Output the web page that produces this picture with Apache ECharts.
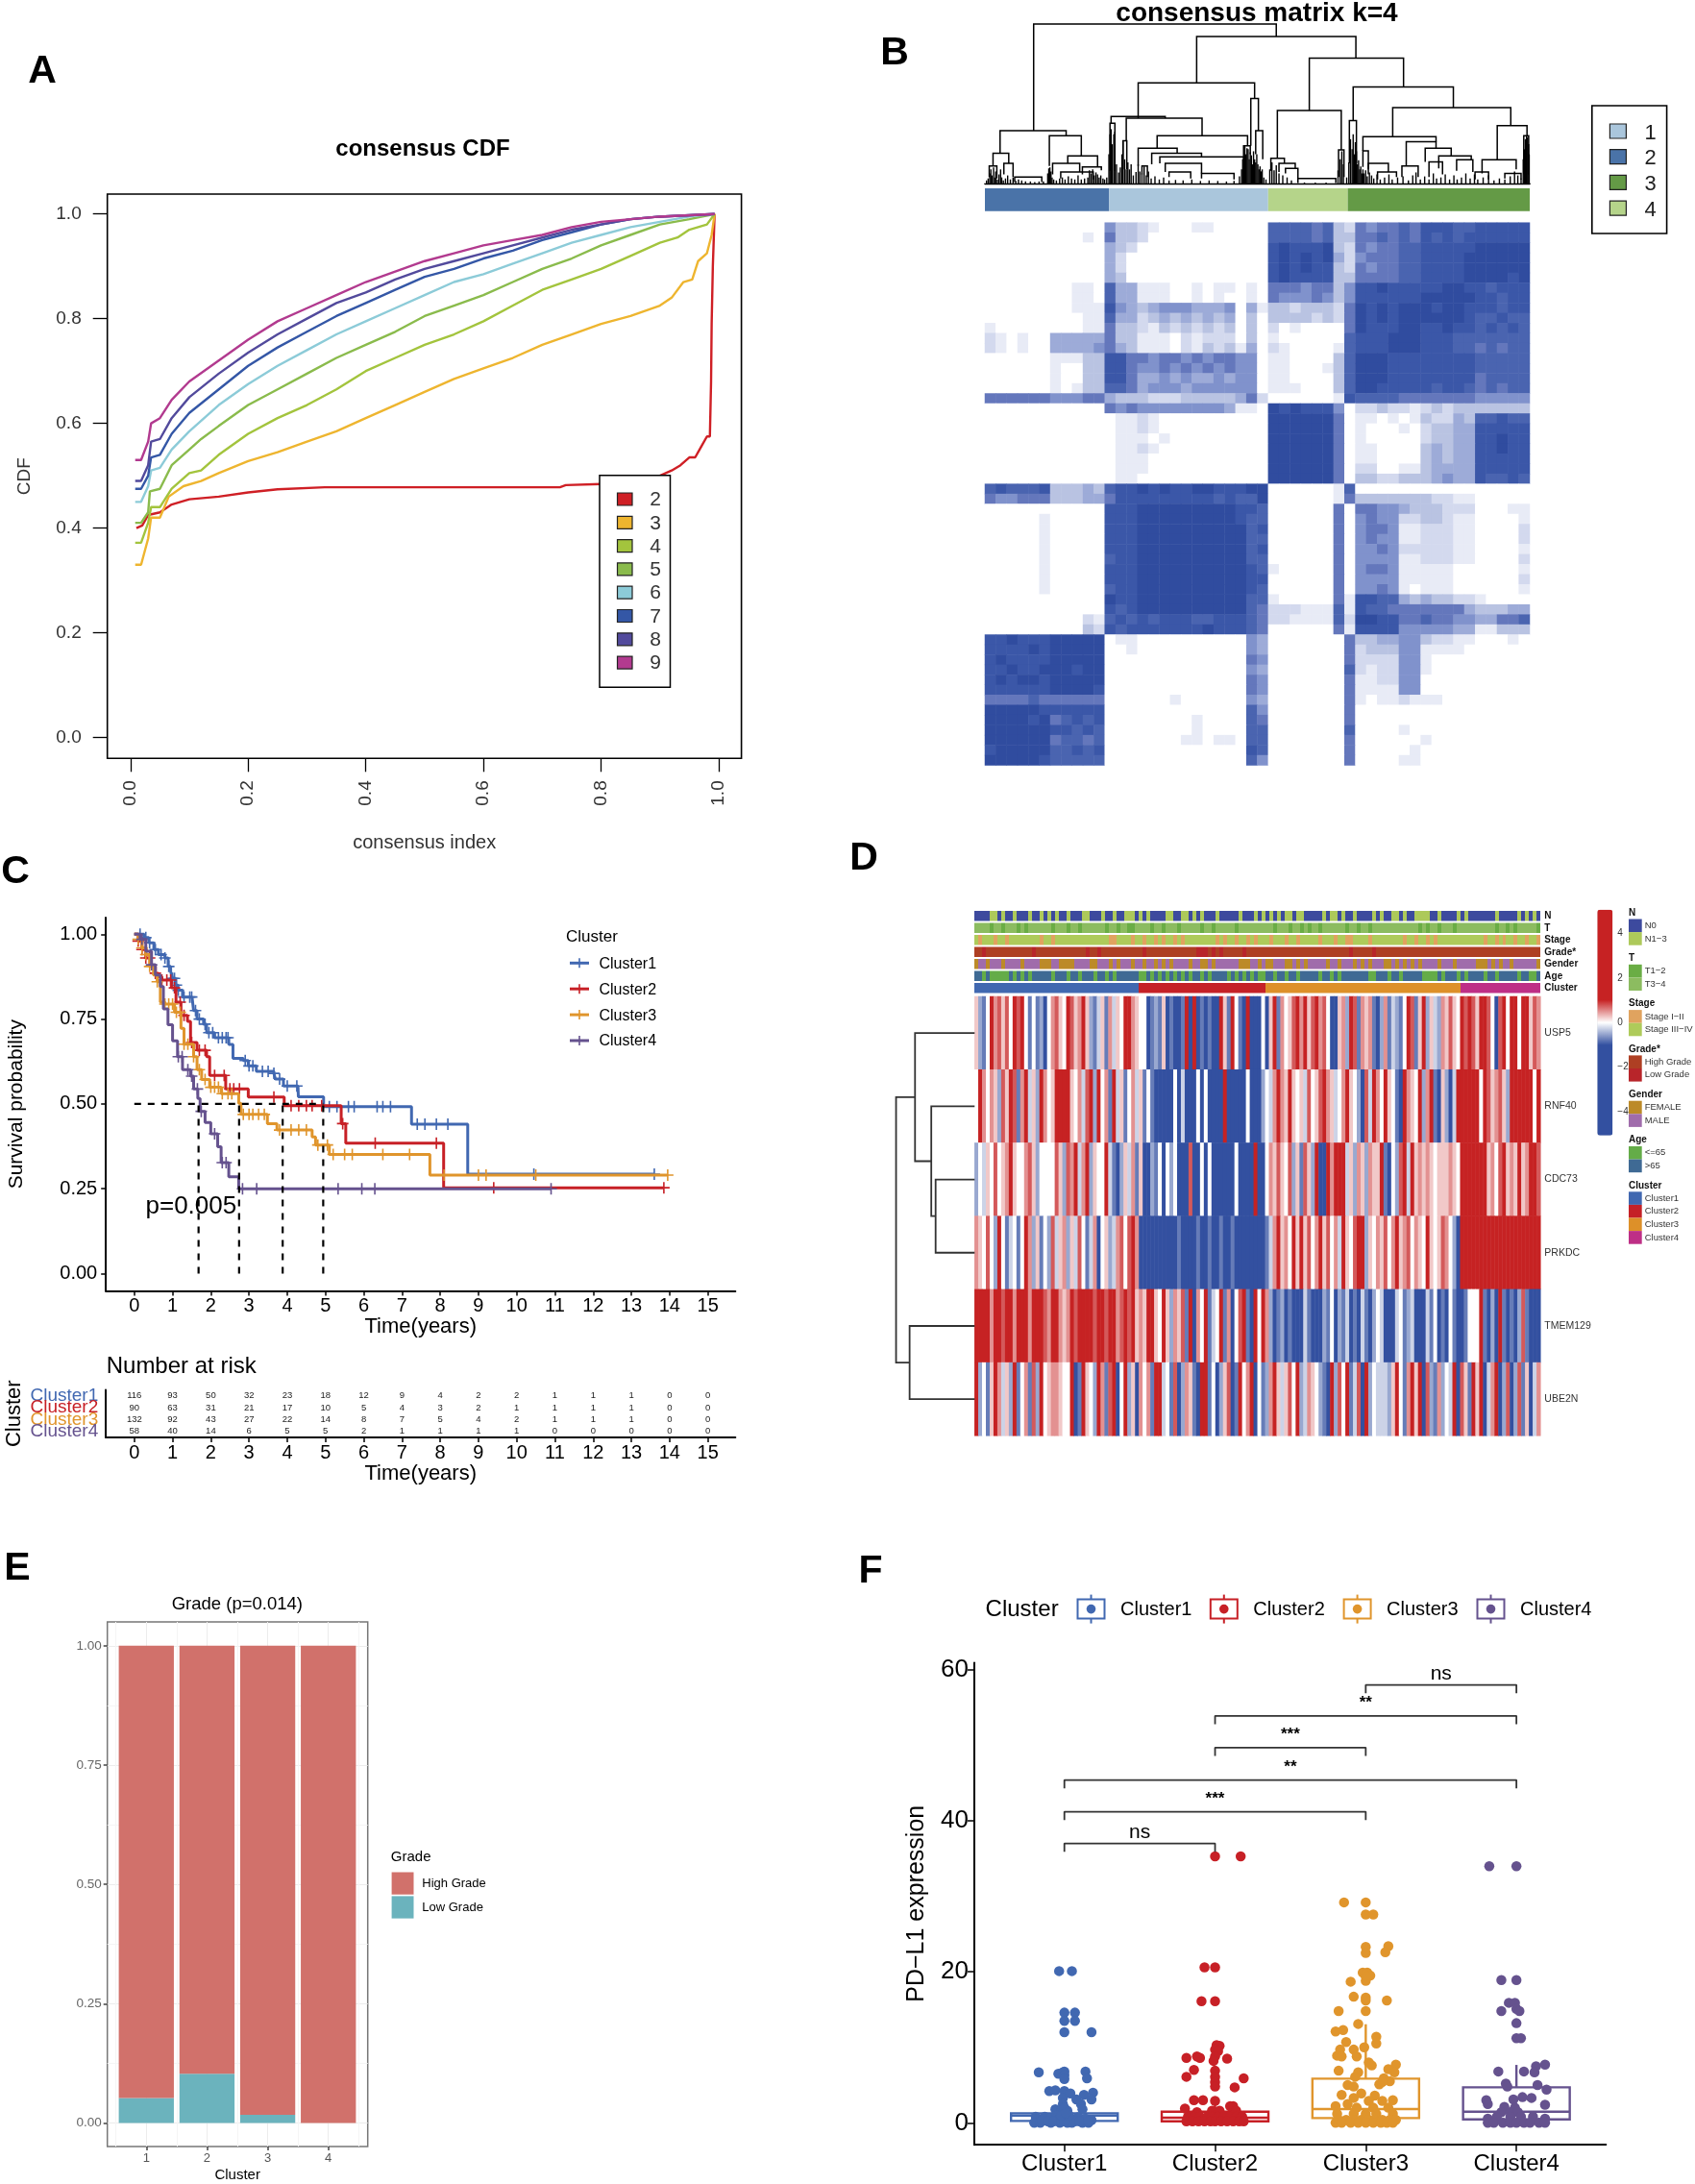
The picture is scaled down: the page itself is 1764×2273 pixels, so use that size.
<!DOCTYPE html>
<html>
<head>
<meta charset="utf-8">
<title>Consensus clusters</title>
<script src="https://cdn.jsdelivr.net/npm/echarts@6/dist/echarts.min.js"></script>
<style>
  html, body { margin: 0; padding: 0; background: #fff; }
  #chart { width: 1764px; height: 2273px; }
</style>
</head>
<body>
<div id="chart"></div>
<script>
// ====== panel A: consensus CDF ======
const cdfNames = ['2', '3', '4', '5', '6', '7', '8', '9'];
const cdfColors = ['#cf1f25', '#eeb52f', '#a3c43d', '#8abb4c', '#8ccbd8', '#3457a6', '#524a9c', '#b23a8f'];
const cdf2 = [[.01,.40],[.02,.405],[.03,.425],[.05,.43],[.07,.445],[.1,.455],[.15,.46],[.2,.468],[.25,.474],[.33,.478],[.73,.478],[.74,.482],[.8,.484],[.88,.495],[.9,.5],[.92,.51],[.935,.52],[.95,.535],[.96,.535],[.97,.555],[.98,.575],[.985,.575],[.987,.68],[.988,.79],[.99,.9],[.993,1]];
const cdf3 = [[.008,.33],[.018,.33],[.03,.38],[.035,.42],[.05,.42],[.065,.46],[.09,.48],[.12,.49],[.15,.505],[.2,.528],[.25,.545],[.3,.565],[.35,.585],[.4,.61],[.45,.635],[.5,.66],[.55,.685],[.6,.705],[.65,.725],[.7,.75],[.75,.77],[.8,.79],[.85,.805],[.9,.825],[.92,.84],[.94,.87],[.955,.875],[.965,.91],[.98,.925],[.988,.96],[.993,1]];
const cdf4 = [[.008,.372],[.018,.372],[.03,.41],[.035,.44],[.05,.44],[.07,.475],[.1,.505],[.12,.51],[.15,.54],[.2,.58],[.25,.61],[.3,.635],[.35,.665],[.4,.70],[.45,.725],[.5,.75],[.55,.77],[.6,.795],[.65,.825],[.7,.855],[.75,.875],[.8,.895],[.85,.92],[.9,.945],[.93,.955],[.95,.97],[.98,.98],[.993,1]];
const cdf5 = [[.008,.41],[.018,.41],[.03,.43],[.033,.47],[.05,.475],[.07,.52],[.1,.55],[.12,.57],[.15,.595],[.2,.635],[.25,.665],[.3,.695],[.35,.725],[.4,.75],[.45,.775],[.5,.805],[.55,.825],[.6,.845],[.65,.87],[.7,.895],[.75,.915],[.8,.94],[.85,.96],[.9,.98],[.95,.99],[.993,1]];
const cdf6 = [[.008,.45],[.018,.45],[.03,.48],[.035,.51],[.05,.515],[.07,.55],[.1,.585],[.15,.635],[.2,.675],[.25,.71],[.3,.74],[.35,.77],[.4,.795],[.45,.82],[.5,.845],[.55,.87],[.6,.885],[.65,.905],[.7,.925],[.75,.945],[.8,.96],[.85,.975],[.9,.985],[.95,.995],[.993,1]];
const cdf7 = [[.008,.475],[.018,.475],[.03,.50],[.035,.535],[.05,.54],[.07,.58],[.1,.62],[.15,.665],[.2,.71],[.25,.745],[.3,.775],[.35,.805],[.4,.83],[.45,.855],[.5,.88],[.55,.895],[.6,.915],[.65,.93],[.7,.95],[.75,.965],[.8,.98],[.85,.99],[.9,.995],[.993,1]];
const cdf8 = [[.008,.49],[.018,.49],[.03,.52],[.035,.565],[.05,.57],[.07,.61],[.1,.65],[.15,.695],[.2,.735],[.25,.77],[.3,.80],[.35,.83],[.4,.85],[.45,.875],[.5,.895],[.55,.91],[.6,.925],[.65,.94],[.7,.955],[.75,.97],[.8,.98],[.85,.99],[.9,.995],[.993,1]];
const cdf9 = [[.008,.53],[.018,.53],[.03,.565],[.035,.6],[.05,.61],[.07,.645],[.1,.68],[.15,.72],[.2,.76],[.25,.795],[.3,.82],[.35,.845],[.4,.87],[.45,.89],[.5,.91],[.55,.925],[.6,.94],[.65,.95],[.7,.96],[.75,.975],[.8,.985],[.85,.99],[.9,.995],[.993,1]];
const cdfCurves = [cdf2, cdf3, cdf4, cdf5, cdf6, cdf7, cdf8, cdf9];

// ====== panel B: consensus matrix, levels 0-9, read as 50 x 54 blocks ======
const matrixRows = [
 '000000 00000 53 32 100011000 00 777767 3 2 6566 76 888 77 88888',
 '000000 00010 63 32 000000000 00 777767 3 3 6676 76 878 78 88888',
 '000000 00000 43 20 000000000 00 898889 3 2 6566 77 888 88 99999',
 '000000 00000 42 00 000000000 00 898989 4 2 5666 77 888 89 99999',
 '000000 00000 42 00 000000000 00 898988 3 2 6566 77 888 89 99999',
 '000000 00000 43 00 000000000 00 898888 3 3 6666 77 888 89 99989',
 '000000 00110 74 41 110010110 10 666566 3 5 8898 88 889 98 87888',
 '000000 00110 74 41 110010100 10 655565 3 5 8888 88 999 99 88788',
 '000000 00111 85 43 455544450 41 332333 2 6 9898 99 989 98 88788',
 '000000 00011 74 42 343434340 30 333323 2 6 9898 99 999 98 77877',
 '100000 00011 63 32 132323230 30 201000 0 6 9888 99 889 88 78787',
 '210100 44444 63 31 110212220 30 100000 0 7 8889 99 888 77 77777',
 '210100 44445 64 31 110213231 40 210000 1 7 8889 99 888 77 67677',
 '000000 11133 88 66 566565665 50 110000 3 7 9998 88 888 88 77777',
 '000000 10033 88 65 565656565 50 110001 3 7 9998 88 888 88 77777',
 '000000 10033 88 64 454544545 50 110000 3 7 9998 88 888 88 67777',
 '000000 10133 77 64 555455555 50 111000 3 7 9988 88 878 87 67677',
 '666666 55566 43 33 222333334 62 000000 1 8 7777 66 666 66 55555',
 '000000 00000 65 65 555555541 10 989888 5 0 2232 21 232 33 33333',
 '000000 00000 01 12 100000000 00 999999 6 0 1101 01 322 43 77877',
 '000000 00000 01 12 100000000 00 999999 6 0 1000 10 233 44 88888',
 '000000 00000 01 11 010000000 00 999999 6 0 1000 00 233 44 88988',
 '000000 00000 01 12 100000000 00 999999 6 0 1100 00 343 44 88988',
 '000000 00000 01 11 000000000 00 999999 6 0 1100 00 343 44 88888',
 '000000 00000 01 11 000000000 00 999999 6 0 2200 11 344 44 88888',
 '000000 00000 01 10 000000000 00 999999 6 0 3322 33 345 44 87787',
 '787778 33343 78 89 898899888 99 000000 1 7 0000 00 000 00 00000',
 '655666 33344 68 88 888888787 79 000000 1 6 3333 33 322 11 00000',
 '000000 00000 88 89 999999998 87 000000 6 0 6655 43 332 22 00011',
 '000001 00000 88 89 999999998 77 000000 6 0 5655 22 332 11 00001',
 '000001 00000 88 89 999999999 78 000000 6 0 5665 11 222 11 00002',
 '000001 00000 88 89 999999999 77 000000 6 0 5655 11 222 11 00002',
 '000001 00000 88 89 999999999 78 000000 6 0 5565 22 222 11 00001',
 '000001 00000 78 89 999999999 77 000000 6 0 5555 11 222 11 00002',
 '000001 00000 88 89 999999999 87 100000 6 0 5665 11 111 00 00001',
 '000001 00000 88 89 999999999 88 000000 6 0 5555 11 111 00 00002',
 '000001 00000 78 89 999999999 87 000000 6 0 5565 10 111 00 00001',
 '000000 00000 98 89 999999999 77 100000 6 1 8877 43 433 22 10000',
 '000000 00000 87 89 999999999 76 222111 7 1 8776 66 666 64 33344',
 '000000 00021 78 78 788877888 76 221111 7 2 9988 66 766 55 44667',
 '000000 00032 87 88 888889888 76 000000 6 1 8888 55 555 44 11333',
 '889888 99999 01 10 000000000 54 000000 0 6 3344 55 322 11 00010',
 '888898 99999 00 10 000000000 54 000000 0 6 2333 55 111 10 00000',
 '898888 99999 00 00 000000000 65 000000 0 6 2222 55 100 00 00000',
 '889889 99899 00 00 000000000 54 000000 0 7 2122 55 100 00 00000',
 '898998 99999 00 00 000000000 65 000000 0 6 1122 55 000 00 00000',
 '888888 99998 00 00 000000000 65 000000 0 6 1111 55 000 00 00000',
 '666676 66666 00 00 001000000 54 000000 0 6 1011 21 110 00 00000',
 '999998 88888 00 00 000000000 75 000000 0 6 0000 00 000 00 00000',
 '999989 67878 00 00 000010000 76 000000 0 6 0000 00 000 00 00000',
 '999999 88787 00 00 000010000 77 000000 0 7 0000 10 000 00 00000',
 '999999 67767 00 00 000110110 77 000000 0 6 0000 00 100 00 00000',
 '899999 77878 00 00 000000000 87 000000 0 6 0000 01 000 00 00000',
 '999998 77777 00 00 000000000 75 000000 0 6 0000 11 000 00 00000'
];
const matrixBarNames = ['2', '1', '4', '3'];
const matrixBarWidths = [229, 294, 147, 336];
const matrixBarColors = ['#4a73a8', '#aac6dc', '#b5d48a', '#649a46'];
const matrixLegendNames = ['1', '2', '3', '4'];
const matrixLegendColors = ['#aac6dc', '#4a73a8', '#649a46', '#b5d48a'];
// [left, right, top, left bottom, right bottom]
const dendroMerges = [
 [90,538,319,107,294],[28,150,107,62,97],[15,44,62,37,42],[8,22,37,15,12],[35,52,42,20,15],[119,178,97,37,57],
 [153,208,57,42,35],[125,175,42,20,25],[180,215,35,20,28],[140,200,25,12,10],[55,105,15,5,5],[391,685,294,202,251],
 [283,498,202,132,171],[491,505,171,77,107],[500,513,107,60,50],[233,333,135,122,132],[231,240,122,27,27],[261,401,132,87,97],
 [318,485,97,72,77],[283,355,72,37,62],[308,400,62,40,55],[323,478,55,42,35],[290,300,37,20,15],[333,400,42,25,22],
 [340,380,25,15,12],[400,460,22,12,10],[255,262,87,30,30],[478,490,77,40,60],[599,773,251,147,194],[540,658,147,52,69],
 [653,663,69,15,15],[528,553,52,27,42],[543,573,42,25,32],[578,648,12,3,3],[555,578,32,22,12],[680,865,194,127,153],
 [673,686,127,42,42],[753,971,153,95,117],[946,1001,117,49,97],[995,1004,97,20,20],[918,981,49,22,30],[698,833,95,67,85],
 [778,833,85,37,72],[813,861,72,45,57],[838,898,57,32,49],[871,901,49,27,25],[698,708,67,35,30],[708,745,42,20,25],
 [725,760,25,10,15],[770,800,37,15,15],[820,845,45,15,20],[905,930,25,10,10],[960,990,22,12,10],[0,1006,1,0,0]
];
// [x, height] of the dense low branches
const dendroComb = [
 [3,8],[6,12],[9,22],[11,30],[13,18],[16,34],[18,14],[20,26],[23,10],[26,20],[29,30],[31,14],[34,8],[38,12],[42,18],[47,10],[52,14],
 [57,7],[62,10],[68,8],[75,6],[84,6],[92,5],[100,6],[108,6],[116,22],[118,32],[120,34],[122,26],[124,14],[127,10],[132,8],[138,12],
 [143,14],[148,10],[154,16],[160,12],[166,10],[172,18],[178,10],[184,12],[190,14],[193,28],[196,22],[199,30],[202,18],[205,24],[208,20],
 [211,14],[214,18],[218,12],[221,10],[225,14],[229,60],[231,100],[233,110],[235,80],[238,100],[240,105],[243,40],[247,24],[250,34],
 [253,60],[255,85],[258,50],[261,30],[264,44],[267,30],[270,40],[274,18],[279,25],[283,40],[286,26],[290,22],[294,36],[298,18],[302,26],
 [307,12],[314,16],[322,10],[330,14],[340,8],[352,9],[366,8],[382,10],[398,7],[414,8],[430,7],[446,6],[460,7],[470,16],
 [474,30],[476,50],[478,78],[480,76],[482,60],[484,72],[486,70],[488,50],[490,64],[492,58],[494,40],[496,66],[498,50],[500,44],[502,60],
 [504,40],[506,30],[508,36],[510,26],[512,30],[515,14],[519,10],[526,30],[530,44],[534,28],[538,38],[543,22],[550,18],[558,14],[566,8],
 [590,4],[610,4],[630,4],[652,28],[656,50],[659,66],[662,40],[668,14],[672,44],[675,90],[678,70],[680,100],[682,60],[684,84],[686,66],
 [688,40],[690,48],[692,30],[694,36],[696,22],[698,30],[700,22],[703,28],[706,16],[710,24],[714,18],[718,12],[724,20],[730,10],[738,14],
 [746,20],[752,10],[762,14],[772,16],[782,8],[790,18],[796,24],[804,10],[812,16],[820,10],[828,22],[834,12],[842,14],[850,20],[858,10],
 [866,18],[872,10],[880,14],[888,22],[896,12],[904,20],[910,10],[920,14],[930,18],[940,8],[950,12],[960,10],[970,16],[978,26],[984,18],
 [990,12],[994,50],[996,70],[998,90],[1000,96],[1002,94],[1004,80],[1005,60]
];

// ====== panel C: Kaplan-Meier, [time, survival after the step] ======
const clusterNames = ['Cluster1', 'Cluster2', 'Cluster3', 'Cluster4'];
const clusterColors = ['#4168b1', '#c72026', '#e0952c', '#65528e'];
const kmCluster1 = [[0,1],[.25,.99],[.38,.975],[.51,.955],[.63,.94],[.8,.93],[.885,.905],[.95,.89],[1,.87],[1.08,.85],[1.14,.835],[1.26,.815],[1.51,.81],[1.55,.775],[1.64,.75],[1.81,.735],[1.89,.71],[2.1,.695],[2.47,.675],[2.58,.634],[2.85,.628],[2.98,.612],[3.19,.596],[3.65,.59],[3.69,.573],[3.9,.553],[4.28,.549],[4.29,.521],[4.95,.492],[7.25,.44],[8.72,.293],[13.6,.293]];
const kmCluster2 = [[0,1],[.1,.98],[.2,.955],[.3,.93],[.42,.905],[.55,.885],[.63,.875],[.72,.865],[.97,.842],[1.09,.80],[1.22,.761],[1.39,.743],[1.47,.681],[1.64,.658],[1.89,.639],[1.97,.584],[2.39,.544],[2.98,.52],[3.92,.495],[5.41,.442],[5.53,.384],[8.09,.253],[13.85,.253]];
const kmCluster3 = [[0,1],[.1,.985],[.2,.96],[.3,.94],[.4,.905],[.5,.88],[.6,.86],[.68,.80],[.8,.794],[1.05,.77],[1.22,.723],[1.3,.676],[1.55,.639],[1.64,.601],[1.76,.572],[1.97,.549],[2.27,.53],[2.73,.502],[2.79,.469],[3.48,.442],[3.73,.423],[4.65,.403],[4.74,.379],[5.1,.351],[7.73,.29],[13.95,.29]];
const kmCluster4 = [[0,1],[.15,.985],[.3,.95],[.45,.91],[.55,.88],[.68,.846],[.76,.78],[.88,.733],[1,.686],[1.13,.639],[1.26,.601],[1.47,.582],[1.55,.544],[1.66,.516],[1.72,.478],[1.85,.445],[2,.412],[2.18,.374],[2.27,.327],[2.47,.285],[2.73,.25],[10.9,.25]];
const kmCurves = [kmCluster1, kmCluster2, kmCluster3, kmCluster4];
const censorCluster1 = [.15,.3,.4,.55,.7,.8,.9,1,1.05,1.1,1.15,1.3,1.45,1.5,1.6,1.7,1.85,1.95,2.05,2.2,2.3,2.4,2.45,2.9,3,3.1,3.35,3.5,3.65,3.8,4,4.25,5.1,5.3,5.6,5.75,6.35,6.5,6.7,7.4,7.6,7.9,8.2,10.45,13.6];
const censorCluster2 = [.1,.2,.3,.4,.55,.72,.85,.95,1.05,1.2,1.3,1.5,1.7,1.85,2.1,2.35,2.5,2.6,2.75,3.65,4.1,4.3,4.5,4.65,4.9,5.45,6.3,7.9,9.4,13.85];
const censorCluster3 = [.1,.2,.3,.4,.6,.8,.9,1,1.1,1.2,1.3,1.4,1.55,1.7,1.85,2,2.1,2.2,2.3,2.45,2.55,2.85,3,3.1,3.25,3.4,3.8,4.1,4.3,4.5,4.8,5.05,5.2,5.5,5.7,6.5,7.2,8.1,9,9.2,10.5,13.95];
const censorCluster4 = [.2,.45,1.15,1.25,1.4,1.5,1.65,1.75,2.1,2.3,2.4,2.83,3.2,5.33,5.95,6.29,10.9];
const censorTimes = [censorCluster1, censorCluster2, censorCluster3, censorCluster4];
const medianTimes = [1.68, 2.74, 3.88, 4.94];
const riskYears = [0,1,2,3,4,5,6,7,8,9,10,11,12,13,14,15];
const riskCluster1 = [116,93,50,32,23,18,12,9,4,2,2,1,1,1,0,0];
const riskCluster2 = [90,63,31,21,17,10,5,4,3,2,1,1,1,1,0,0];
const riskCluster3 = [132,92,43,27,22,14,8,7,5,4,2,1,1,1,0,0];
const riskCluster4 = [58,40,14,6,5,5,2,1,1,1,1,0,0,0,0,0];
const riskTable = [riskCluster1, riskCluster2, riskCluster3, riskCluster4];

// ====== panel D: heatmap, 148 bins across, digit = colour level ======
const geneNames = ['USP5', 'RNF40', 'CDC73', 'PRKDC', 'TMEM129', 'UBE2N'];
const heatLevels = [-3, -.75, -.5, -.25, 0, .25, .5, .75, 1.2, 3];
const heatRows = [
 '5214867574 8784141204 6754875685 2135163548 8654401215 0100180901 0100851841 0900 040581 6457968578 6740056287 1656102613 2148715925 3265754879 7588740784 89489576',
 '4864652758 7168352864 5889954637 8284618351 4635141000 0040300040 4000080000 0400 024368 6585453745 7865346854 2073864854 1086548268 1052039899 9848756752 99998848',
 '2435474568 5446752444 4752768368 2544831025 3615002140 4240007004 0400000040 0008 004657 5472517529 0086989352 6526558104 2783956565 4555654999 9988564785 65856997',
 '6547428413 4148625142 7356253741 3604523674 7860000000 0001000010 0100100100 0000 001368 5648595746 8574638547 8925465746 8567465485 4576420999 9998999989 99989999',
 '8989689799 6998689876 8965687898 8798798679 7856589548 5265719064 8134816047 8109 486201 2010003100 0214021301 0310243000 3412300031 4010410014 4481020810 10271000',
 '8241586352 9146172845 6654490185 4286179048 2506461983 4170265108 9140257019 4680 412695 3574823654 2108274913 7092433325 8416958072 1624390751 9580368027 02715036'
];
const trackNames = ['N', 'T', 'Stage', 'Grade*', 'Gender', 'Age', 'Cluster'];
const trackN = '0000110100 1000100101 0100100011 0001001001 1101010000 1100110101 0001000001 0001 0101010110 1100000101 1010010000 1010011010 0111100100 001010 0000001000 00101010';
const trackT = '1111011011 1010111111 0111011011 1111011011 0011110110 1110111110 1101111101 1111 1111011101 1010110111 1110110110 1111111111 1101011011 1011111111 1101101011 1110';
const trackStage = '1011101101 1111111011 0111111111 1111100111 1011011010 1101011111 1110101101 1010 1110111011 0111110111 0110011110 1111111101 1011010111 1111111110 1101011011 0110';
const trackGrade = '0010000000 0000010000 0000000001 0010000000 0000100000 0000000011 1010100000 1000000000 0000000000 0000000010 0000100000 0000000000 0000000000 0000000000 00000000';
const trackGender = '0110111011 1101111000 1100001111 0011101011 1011011010 1011110110 0101111110 0011 010011 1001010111 1101101110 1010111001 0101010111 1011101111 1000101011 01111110';
const trackAge = '1101000001 0101011111 0111011011 1011010111 1110010101 0101010110 1011110101 0101 0011011011 0111110110 1011111110 0111011011 1110000101 1101011110 1101111101 1001';
const clusterBins = [43, 33, 51, 21];
const legendN = [['N0', '#3d4a9e'], ['N1\u22123', '#adc95a']];
const legendT = [['T1\u22122', '#6aad45'], ['T3\u22124', '#8cbc60']];
const legendStage = [['Stage I\u2212II', '#e0a35f'], ['Stage III\u2212IV', '#aecb5a']];
const legendGrade = [['High Grade', '#ae3f23'], ['Low Grade', '#b8252a']];
const legendGender = [['FEMALE', '#bc8a28'], ['MALE', '#a06cab']];
const legendAge = [['<=65', '#64ac48'], ['>65', '#3f6a94']];
const legendCluster = [['Cluster1', '#4168b0'], ['Cluster2', '#c52127'], ['Cluster3', '#dd9029'], ['Cluster4', '#be2f86']];
const heatLegend = [legendN, legendT, legendStage, legendGrade, legendGender, legendAge, legendCluster];
// [top, row a, row b, height a, height b]
const geneMerges = [[72,2.5,3.5,0,0],[80,1.5,3,0,72],[110,.5,2.25,0,80],[120,4.5,5.5,0,0],[145,1.375,5,110,120]];

// ====== panel E ======
const gradeClusters = [1, 2, 3, 4];
const gradeLow = [.052, .103, .017, 0];
const gradeHigh = [.948, .897, .983, 1];

// ====== panel F: [position along the axis, PD-L1] ======
const pdl1Cluster1 = [[.965,20.1],[1.05,20.1],[1,14.6],[1.07,14.6],[1,13.5],[1.07,13.5],[1,12],[1.18,12],[.83,6.7],[.96,6.5],[.99,6.7],[1,6.8],[1,6.3],[1,5.8],[1.14,6.8],[1.15,5.9],[.9,4.2],[.94,4.3],[1,4.2],[1.04,3.9],[1.19,4],[1.13,3.7],[1.18,3.1],[1.08,3.1],[.99,3.3],[.99,2.5],[1.11,2.5],[1.12,1.8],[.94,1.8],[.98,1.6],[1.02,1.6],[.81,.8],[.87,.8],[.91,.55],[.95,1],[.97,.55],[1,.75],[1.04,.35],[1.09,.75],[1.14,.55],[1.18,.35],[.8,0],[.84,0],[.91,0],[.97,0],[1.05,0],[1.12,0],[1.16,0],[1.02,0],[.85,.3],[.89,.2],[.93,.2],[.98,.2],[1,.2],[1.07,.2],[1.1,.2],[1.16,.2],[.98,1],[1.03,1],[1,2],[1.01,1.3]];
const pdl1Cluster2 = [[2,35.3],[2.17,35.3],[1.93,20.6],[2,20.6],[1.91,16.1],[2,16.1],[2.01,10.3],[2.03,10.2],[2,9.7],[2.02,9.5],[2,8.8],[1.99,8.2],[1.81,8.6],[1.88,8.8],[1.9,8.6],[2.08,8.5],[1.86,7],[1.81,6.1],[2,6.9],[2,6.1],[2,5.4],[2,4.8],[2.19,5.9],[2.13,4.7],[1.86,3],[1.92,3],[2,2.9],[2.1,2.2],[2.12,2.2],[1.8,1.9],[1.88,1.4],[1.98,1.6],[2.03,1.6],[2.14,1.6],[1.82,.8],[1.86,.8],[1.9,.8],[1.95,.8],[1.98,.8],[2.02,.8],[2.06,.8],[2.1,.8],[2.14,.8],[2.18,.8],[1.81,.2],[1.85,.2],[1.89,.2],[1.93,.2],[1.97,.2],[2,.2],[2.04,.2],[2.08,.2],[2.12,.2],[2.16,.2],[2.19,.2]];
const pdl1Cluster3 = [[2.856,29.2],[3,29.2],[3,27.6],[3.05,27.6],[3,23.3],[3,22.5],[3.15,23.4],[3.13,22.6],[2.98,19.9],[3.01,19.9],[3.03,19.5],[3,18.8],[2.9,18.7],[3,19.4],[2.92,16.7],[3,16.6],[3,16.2],[3.14,16.2],[2.82,14.8],[3,14.8],[2.95,13.1],[2.8,12.1],[2.85,12.3],[3.07,11.4],[3.07,10.5],[2.87,10.7],[2.99,10],[2.83,9.7],[2.81,8.9],[2.84,8.8],[2.92,9.7],[2.94,8.8],[3.02,8],[3.04,7.6],[2.82,6.9],[3.2,7.7],[3.15,7.1],[3.19,6.7],[2.95,6.7],[2.93,6.1],[3.12,5.9],[3.16,5.5],[3.09,5.1],[3.11,5.4],[2.88,5],[2.92,4.8],[2.97,3.9],[2.84,3.7],[2.92,3.3],[3.06,3.6],[3.18,3],[3.02,2.9],[3.11,2.9],[2.8,2.2],[2.88,2.5],[2.94,2],[3.05,2],[3.15,2],[2.81,1.2],[2.92,1.2],[3,1.2],[3.07,1.2],[3.18,1.2],[2.82,.4],[2.87,.4],[2.92,.4],[2.97,.4],[3.02,.4],[3.06,.4],[3.11,.4],[3.16,.4],[3.2,.4],[2.8,0],[2.84,0],[2.9,0],[2.95,0],[3,0],[3.05,0],[3.1,0],[3.14,0],[3.18,0]];
const pdl1Cluster4 = [[3.82,34],[4,34],[3.9,18.9],[4,18.9],[3.95,15.9],[3.99,15.9],[3.9,14.8],[4,15.1],[4.02,14.8],[4,13.2],[4,11.2],[4.03,11.2],[4.19,7.7],[4.13,7.5],[4.12,6.7],[3.88,6.8],[4.05,6.8],[3.93,5.2],[3.94,4.8],[4.14,5],[4.2,4.4],[4.04,3.4],[4.1,3.3],[3.98,3.1],[3.8,3],[3.81,2.5],[4.19,2.4],[3.92,2.1],[3.99,2],[3.9,1.4],[3.96,1.4],[4.01,1.4],[3.81,.55],[3.87,.8],[3.96,.8],[4.03,.8],[4.11,.8],[4.19,.55],[3.81,0],[3.85,0],[3.91,0],[3.96,0],[4,0],[4.05,0],[4.09,0],[4.15,0],[4.19,0]];
const pdl1Points = [pdl1Cluster1, pdl1Cluster2, pdl1Cluster3, pdl1Cluster4];
// [lower whisker, q1, median, q3, upper whisker]
const pdl1Boxes = [[0,.25,.97,1.27,2.8],[0,.2,.67,1.48,3.4],[0,.63,1.82,5.85,13.06],[0,.46,1.48,4.7,7.67]];
// [from, to, y, label]
const pdl1Brackets = [[1,2,37,'ns'],[1,3,41.2,'***'],[1,4,45.4,'**'],[2,3,49.7,'***'],[2,4,53.9,'**'],[3,4,58,'ns']];

// ====== helpers ======
const FONT = "'Liberation Sans', Arial, sans-serif";
const grids = [], xAxes = [], yAxes = [], series = [], elements = [];

const compact = s => s.replace(/ /g, '');
const addGrid = (left, top, width, height, xAxis, yAxis, extra) => {
    grids.push(Object.assign({ left, top, width, height, outerBoundsMode: 'none', containLabel: false }, extra));
    const i = grids.length - 1;
    xAxes.push(Object.assign({ gridIndex: i }, xAxis));
    yAxes.push(Object.assign({ gridIndex: i }, yAxis));
    return i;
};
const onGrid = i => ({ xAxisIndex: i, yAxisIndex: i });
const hiddenValue = (min, max, inverse) => ({ type: 'value', show: false, min, max, inverse: !!inverse, splitLine: { show: false } });
const hiddenCategory = (data, inverse) => ({ type: 'category', show: false, data, inverse: !!inverse });

const valAxis = o => ({
    type: 'value', min: o.min, max: o.max, position: o.position,
    splitLine: { show: !!o.split, lineStyle: { color: o.split, width: 1 } },
    axisLine: { show: o.line !== false, onZero: false, lineStyle: { color: o.lineColor || '#000', width: o.lineWidth || 2 } },
    axisTick: { show: o.tickLen !== 0, customValues: o.ticks, length: o.tickLen || 5, lineStyle: { color: o.lineColor || '#000', width: o.tickWidth || 1.5 } },
    axisLabel: { customValues: o.ticks, formatter: o.fmt, fontSize: o.size, fontFamily: FONT, color: o.color || '#000', margin: o.margin, rotate: o.rotate || 0 },
    name: o.name, nameLocation: 'middle', nameGap: o.nameGap, nameMoveOverlap: false,
    nameTextStyle: { fontSize: o.nameSize, fontFamily: FONT, color: o.nameColor || '#000' }
});

const txt = (x, y, text, size, opt) => {
    const o = opt || {};
    elements.push({
        type: 'text', x, y, rotation: o.rotation || 0, z: 60, silent: true,
        style: { text, fontSize: size, fontFamily: FONT, fontWeight: o.weight || 'normal', fill: o.fill || '#000', align: o.align || 'left', verticalAlign: 'middle' }
    });
};
const box = (x, y, w, h, fill, stroke, lineWidth, z) => elements.push({
    type: 'rect', z: z || 55, silent: true, shape: { x, y, width: w, height: h },
    style: { fill: fill || 'none', stroke: stroke || 'none', lineWidth: lineWidth || 0 }
});
const seg = (x1, y1, x2, y2, stroke, lineWidth) => elements.push({
    type: 'line', z: 58, silent: true, shape: { x1, y1, x2, y2 }, style: { stroke, lineWidth }
});

// 矩形格子: 相邻边取整, 避免接缝
const cellRender = (colorOf, band) => (params, api) => {
    const c = api.coord([api.value(0), api.value(1)]);
    const s = api.size([1, 1]);
    const x0 = Math.round(c[0] - s[0] / 2), x1 = Math.round(c[0] + s[0] / 2);
    const h = s[1] * band;
    return { type: 'rect', shape: { x: x0, y: c[1] - h / 2, width: x1 - x0, height: h }, style: { fill: colorOf(api.value(1), api.value(2)) } };
};
const textSeries = (grid, rows, size, opt) => series.push(Object.assign({
    type: 'custom', ...onGrid(grid), silent: true, z: 5, clip: false,
    data: rows.map(r => [r[0], r[1]]),
    renderItem: (params, api) => {
        const p = api.coord([api.value(0), api.value(1)]);
        return { type: 'text', style: { x: p[0], y: p[1], text: String(rows[params.dataIndex][2]), font: `${opt.weight || 'normal'} ${size}px ${FONT}`, fill: opt.fill || '#000', align: 'center', verticalAlign: 'middle' } };
    }
}));
const panelLetter = (x, y, s) => txt(x, y, s, 41, { weight: 'bold', align: 'center' });

// ====== A ======
const ticksA = [0, .2, .4, .6, .8, 1];
const gridA = addGrid(111.7, 202, 659.9, 587.3,
    valAxis({ min: -.0394, max: 1.0386, ticks: ticksA, fmt: v => v.toFixed(1), size: 19, color: '#333', rotate: 90, line: false, tickLen: 14, tickWidth: 1.3, margin: 23, name: 'consensus index', nameSize: 20, nameColor: '#333', nameGap: 78 }),
    valAxis({ min: -.04, max: 1.038, ticks: ticksA, fmt: v => v.toFixed(1), size: 19, color: '#333', line: false, tickLen: 15, tickWidth: 1.3, margin: 27, name: 'CDF', nameSize: 19, nameColor: '#333', nameGap: 76 }),
    { show: true, borderColor: '#000', borderWidth: 1.6, backgroundColor: 'transparent' });
cdfCurves.forEach((curve, i) => series.push({
    type: 'line', ...onGrid(gridA), name: cdfNames[i], data: curve, symbol: 'none',
    lineStyle: { color: cdfColors[i], width: 2.4 }
}));
panelLetter(44, 75, 'A');
txt(440, 155, 'consensus CDF', 24, { weight: 'bold', align: 'center' });
box(624, 494.8, 73.5, 220.5, '#fff', '#000', 1.5);
cdfNames.forEach((n, i) => {
    const y = 519.5 + i * 24.3;
    box(642.5, y - 6.5, 15.5, 13, cdfColors[i], '#222', 1.2, 57);
    txt(682, y + 1, n, 21, { align: 'center', fill: '#333' });
});

// ====== B ======
const gridDendro = addGrid(1025, 25, 567, 167, hiddenValue(0, 1006), hiddenValue(0, 319));
series.push({
    type: 'custom', ...onGrid(gridDendro), silent: true, data: dendroMerges, clip: false,
    renderItem: (params, api) => {
        const [l, r, top, lb, rb] = [0, 1, 2, 3, 4].map(d => api.value(d));
        return { type: 'polyline', shape: { points: [api.coord([l, lb]), api.coord([l, top]), api.coord([r, top]), api.coord([r, rb])] }, style: { stroke: '#000', fill: null, lineWidth: 1.5 } };
    }
});
series.push({
    type: 'custom', ...onGrid(gridDendro), silent: true, data: dendroComb, clip: false,
    renderItem: (params, api) => {
        const a = api.coord([api.value(0), 0]), b = api.coord([api.value(0), api.value(1)]);
        return { type: 'line', shape: { x1: a[0], y1: a[1], x2: b[0], y2: b[1] }, style: { stroke: '#000', lineWidth: 1.4 } };
    }
});
const gridBar = addGrid(1025, 196, 567, 23.7, hiddenValue(0, 1006), hiddenCategory(['k']));
matrixBarNames.forEach((n, i) => series.push({
    type: 'bar', ...onGrid(gridBar), name: n, stack: 'k', barWidth: '100%', data: [matrixBarWidths[i]],
    itemStyle: { color: matrixBarColors[i] }, silent: true
}));
const matrixCols = compact(matrixRows[0]).length;
const gridMatrix = addGrid(1025, 231.7, 567, 564.8,
    hiddenCategory(Array.from({ length: matrixCols }, (_, i) => i)),
    hiddenCategory(matrixRows.map((_, i) => i), true));
const matrixData = [];
matrixRows.forEach((row, r) => compact(row).split('').forEach((d, c) => matrixData.push([c, r, +d])));
const matrixSeries = series.push({ type: 'heatmap', ...onGrid(gridMatrix), data: matrixData, progressive: 0, silent: true }) - 1;
panelLetter(931, 56, 'B');
txt(1308, 14, 'consensus matrix k=4', 28, { weight: 'bold', align: 'center' });
box(1656.8, 110, 77.8, 133, '#fff', '#000', 1.6);
matrixLegendNames.forEach((n, i) => {
    const y = 136.5 + i * 26.7;
    box(1675.4, y - 7.5, 17, 15, matrixLegendColors[i], '#222', 1.2, 57);
    txt(1717.6, y + 2, n, 22, { align: 'center', fill: '#222' });
});

// ====== C ======
const years = riskYears;
const gridKm = addGrid(110.2, 955, 655.1, 388.4,
    valAxis({ min: -.744, max: 15.72, ticks: years, size: 20, margin: 6, name: 'Time(years)', nameSize: 22, nameGap: 27 }),
    valAxis({ min: -.0507, max: 1.049, ticks: [0, .25, .5, .75, 1], fmt: v => v.toFixed(2), size: 20, margin: 9, name: 'Survival probability', nameSize: 21, nameGap: 82 }));
// 中位生存虚线
series.push({ type: 'line', ...onGrid(gridKm), data: [[0, .5], [medianTimes[3], .5]], symbol: 'none', z: 6, lineStyle: { color: '#000', width: 2.2, type: [7, 7] } });
medianTimes.forEach(t => series.push({ type: 'line', ...onGrid(gridKm), data: [[t, 0], [t, .5]], symbol: 'none', z: 6, lineStyle: { color: '#000', width: 2.2, type: [7, 7] } }));
const survivalAt = (curve, t) => curve.reduce((s, p) => (p[0] <= t ? p[1] : s), 1);
kmCurves.forEach((curve, i) => {
    series.push({ type: 'line', ...onGrid(gridKm), name: clusterNames[i], data: curve, step: 'end', symbol: 'none', z: 3 + i * .1, lineStyle: { color: clusterColors[i], width: 3 } });
    series.push({
        type: 'scatter', ...onGrid(gridKm), data: censorTimes[i].map(t => [t, survivalAt(curve, t)]), z: 3 + i * .1,
        symbol: 'path://M0 5H10M5 0V10', symbolSize: 12,
        itemStyle: { color: 'transparent', borderColor: clusterColors[i], borderWidth: 1.6, opacity: 1 }
    });
});
panelLetter(16, 908, 'C');
txt(151.5, 1256, 'p=0.005', 26);
txt(589, 975, 'Cluster', 17);
clusterNames.forEach((n, i) => {
    const y = 1002.3 + i * 26.9;
    seg(593, y, 613, y, clusterColors[i], 3);
    seg(603, y - 5, 603, y + 5, clusterColors[i], 1.6);
    txt(623.5, y + 1, n, 16);
});
const gridRisk = addGrid(110.2, 1446.4, 655.1, 49.6,
    valAxis({ min: -.744, max: 15.72, ticks: years, size: 20, margin: 6, name: 'Time(years)', nameSize: 22, nameGap: 27 }),
    {
        type: 'category', data: clusterNames, inverse: true,
        axisLine: { onZero: false, lineStyle: { color: '#000', width: 2 } },
        axisTick: { alignWithLabel: true, length: 4, lineStyle: { color: '#000', width: 1.5 } },
        axisLabel: { interval: 0, fontSize: 19, fontFamily: FONT, margin: 8, color: (v, i) => clusterColors[i] },
        name: 'Cluster', nameLocation: 'middle', nameGap: 84, nameMoveOverlap: false,
        nameTextStyle: { fontSize: 22, fontFamily: FONT, color: '#000' }
    });
const riskCells = [];
riskTable.forEach((row, r) => row.forEach((n, c) => riskCells.push([riskYears[c], r, n])));
textSeries(gridRisk, riskCells, 9.5, { fill: '#222' });
txt(110.7, 1422.4, 'Number at risk', 24);

// ====== D ======
const heatBins = compact(heatRows[0]).length;
const binLabels = Array.from({ length: heatBins }, (_, i) => i);
const clusterTrack = clusterBins.map((n, i) => String(i).repeat(n)).join('');
const tracks = [trackN, trackT, trackStage, trackGrade, trackGender, trackAge, clusterTrack].map(compact);
const gridTracks = addGrid(1014.3, 947, 589, 87.5,
    hiddenCategory(binLabels),
    {
        type: 'category', data: trackNames, inverse: true, position: 'right',
        axisLine: { show: false }, axisTick: { show: false },
        axisLabel: { interval: 0, fontSize: 10, fontWeight: 'bold', fontFamily: FONT, color: '#111', margin: 4 }
    });
const trackCells = [];
tracks.forEach((t, r) => t.split('').forEach((d, c) => trackCells.push([c, r, +d])));
series.push({
    type: 'custom', ...onGrid(gridTracks), silent: true, data: trackCells,
    renderItem: cellRender((r, code) => heatLegend[r][code][1], .84)
});
const gridHeat = addGrid(1014.3, 1037, 589, 457.3,
    hiddenCategory(binLabels),
    {
        type: 'category', data: geneNames, inverse: true, position: 'right',
        axisLine: { show: false }, axisTick: { show: false },
        axisLabel: { interval: 0, fontSize: 10.5, fontFamily: FONT, color: '#333', margin: 4 }
    });
const heatData = [];
heatRows.forEach((row, r) => compact(row).split('').forEach((d, c) => heatData.push([c, r, heatLevels[+d]])));
const heatSeries = series.push({ type: 'heatmap', ...onGrid(gridHeat), data: heatData, progressive: 0, silent: true }) - 1;
const gridGeneTree = addGrid(930, 1037, 84.3, 457.3, hiddenValue(0, 149.5, true), hiddenValue(0, 6, true));
series.push({
    type: 'custom', ...onGrid(gridGeneTree), silent: true, data: geneMerges, clip: false,
    renderItem: (params, api) => {
        const [top, a, b, ha, hb] = [0, 1, 2, 3, 4].map(d => api.value(d));
        return { type: 'polyline', shape: { points: [api.coord([ha, a]), api.coord([top, a]), api.coord([top, b]), api.coord([hb, b])] }, style: { stroke: '#333', fill: null, lineWidth: 1.8 } };
    }
});
// 色条刻度
addGrid(1662.3, 946.7, 16, 235, hiddenValue(0, 1), valAxis({
    min: -5.07, max: 5.07, position: 'right', ticks: [-4, -2, 0, 2, 4], fmt: v => String(v).replace('-', '\u2212'),
    size: 10, color: '#333', line: false, tickLen: 0, margin: 5
}));
panelLetter(899, 894, 'D');
const legendHeaders = ['N', 'T', 'Stage', 'Grade*', 'Gender', 'Age', 'Cluster'];
heatLegend.forEach((items, g) => {
    const y = 950 + g * 47.3;
    txt(1695, y, legendHeaders[g], 10, { weight: 'bold', fill: '#111' });
    items.forEach((it, i) => {
        const iy = y + 13.3 + i * 13.6;
        box(1695, iy - 6.8, 13.7, 13.6, it[1], null, 0, 56);
        txt(1711.7, iy, it[0], 9.5, { fill: '#333' });
    });
});

// ====== E ======
const minorY = [.125, .375, .625, .875], minorX = [1.5, 2.5, 3.5, .5, 4.5];
addGrid(111.7, 1688, 271, 546, valAxis({ min: .357, max: 4.65, ticks: minorX, line: false, tickLen: 0, split: '#f5f5f5', fmt: () => '' }), valAxis({ min: -.0495, max: 1.05, ticks: minorY, line: false, tickLen: 0, split: '#f5f5f5', fmt: () => '' }));
addGrid(111.7, 1688, 271, 546,
    valAxis({ min: .357, max: 4.65, ticks: gradeClusters, size: 13, color: '#555', line: false, split: '#ececec', lineColor: '#444', tickLen: 4, margin: 6, name: 'Cluster', nameSize: 15, nameGap: 22 }),
    valAxis({ min: -.0495, max: 1.05, ticks: [0, .25, .5, .75, 1], fmt: v => v.toFixed(2), size: 13.5, color: '#666', line: false, split: '#ececec', lineColor: '#444', tickLen: 4, margin: 6 }),
    { show: true, borderColor: '#777', borderWidth: 1.5, backgroundColor: 'transparent' });
// 堆叠柱: 类目轴的内层网格, 与外框同一纵向范围
const gridGrade = addGrid(120.7, 1688, 252.6, 546, hiddenCategory(gradeClusters), hiddenValue(-.0495, 1.05));
series.push({ type: 'bar', ...onGrid(gridGrade), name: 'Low Grade', stack: 'g', barWidth: '90.8%', silent: true, data: gradeLow, itemStyle: { color: '#6bb3bd' } });
series.push({ type: 'bar', ...onGrid(gridGrade), name: 'High Grade', stack: 'g', barWidth: '90.8%', silent: true, data: gradeHigh, itemStyle: { color: '#d1716b' } });
panelLetter(18, 1633, 'E');
txt(246.8, 1670, 'Grade (p=0.014)', 18.5, { align: 'center' });
txt(406.8, 1932.6, 'Grade', 15);
box(407.6, 1948.5, 22.9, 23.2, '#d1716b');
box(407.6, 1973.4, 22.9, 23.2, '#6bb3bd');
txt(439.3, 1960.5, 'High Grade', 13);
txt(439.3, 1985.4, 'Low Grade', 13);

// ====== F ======
const gridPdl1 = addGrid(1014, 1730.4, 657.3, 501.8,
    valAxis({ min: .4024, max: 4.594, ticks: [1, 2, 3, 4], fmt: v => clusterNames[v - 1], size: 24, margin: 8, tickLen: 7 }),
    valAxis({ min: -2.91, max: 60.95, ticks: [0, 20, 40, 60], size: 26, margin: 6, tickLen: 7, name: 'PD\u2212L1 expression', nameSize: 25, nameGap: 47 }));
series.push({
    type: 'custom', ...onGrid(gridPdl1), silent: true, z: 2,
    data: pdl1Boxes.map((b, i) => [i + 1, ...b]),
    renderItem: (params, api) => {
        const x = api.value(0), half = .354;
        const [lo, q1, med, q3, hi] = [1, 2, 3, 4, 5].map(d => api.value(d));
        const a = api.coord([x - half, q3]), b = api.coord([x + half, q1]);
        const m0 = api.coord([x - half, med]), m1 = api.coord([x + half, med]);
        const t0 = api.coord([x, hi]), t1 = api.coord([x, q3]), b0 = api.coord([x, q1]), b1 = api.coord([x, lo]);
        const style = { stroke: clusterColors[params.dataIndex], fill: null, lineWidth: 2.4 };
        return { type: 'group', children: [
            { type: 'rect', shape: { x: a[0], y: a[1], width: b[0] - a[0], height: b[1] - a[1] }, style },
            { type: 'line', shape: { x1: m0[0], y1: m0[1], x2: m1[0], y2: m1[1] }, style },
            { type: 'line', shape: { x1: t0[0], y1: t0[1], x2: t1[0], y2: t1[1] }, style },
            { type: 'line', shape: { x1: b0[0], y1: b0[1], x2: b1[0], y2: b1[1] }, style }
        ] };
    }
});
pdl1Points.forEach((pts, i) => series.push({
    type: 'scatter', ...onGrid(gridPdl1), name: clusterNames[i], data: pts, symbolSize: 10.5, z: 3,
    itemStyle: { color: clusterColors[i], opacity: 1 }, silent: true
}));
pdl1Brackets.forEach(b => series.push({
    type: 'line', ...onGrid(gridPdl1), symbol: 'none', z: 4, silent: true,
    data: [[b[0], b[2] - 1.1], [b[0], b[2]], [b[1], b[2]], [b[1], b[2] - 1.1]],
    lineStyle: { color: '#333', width: 1.8 }
}));
textSeries(gridPdl1, pdl1Brackets.filter(b => b[3] === 'ns').map(b => [(b[0] + b[1]) / 2, b[2] + 1.5, b[3]]), 21, {});
textSeries(gridPdl1, pdl1Brackets.filter(b => b[3] !== 'ns').map(b => [(b[0] + b[1]) / 2, b[2] + 1.7, b[3]]), 17, { weight: 'bold' });
panelLetter(906, 1636, 'F');
txt(1025.6, 1675, 'Cluster', 24);
[1121.5, 1259.8, 1398.6, 1537.5].forEach((x, i) => {
    const c = clusterColors[i], mid = x + 14;
    box(x, 1664.6, 28, 20, 'none', c, 2, 58);
    seg(mid, 1659.6, mid, 1664.6, c, 2);
    seg(mid, 1684.6, mid, 1689.6, c, 2);
    elements.push({ type: 'circle', z: 59, silent: true, shape: { cx: mid, cy: 1674.6, r: 4.8 }, style: { fill: c } });
    txt(x + 44.5, 1675, clusterNames[i], 20);
});

// ====== 组装 ======
const chart = echarts.init(document.getElementById('chart'));
chart.setOption({
    animation: false,
    backgroundColor: '#fff',
    textStyle: { fontFamily: FONT },
    grid: grids,
    xAxis: xAxes,
    yAxis: yAxes,
    visualMap: [
        { show: false, type: 'continuous', seriesIndex: matrixSeries, dimension: 2, min: 0, max: 9, inRange: { color: ['#ffffff', '#e8ebf6', '#d3d9ee', '#b9c3e2', '#9dabd8', '#8092cc', '#6477bc', '#4a64b0', '#3b57a8', '#304c9f'] } },
        {
            type: 'continuous', seriesIndex: heatSeries, dimension: 2, min: -5, max: 5, calculable: false, hoverLink: false,
            left: 1662.3, top: 946.7, itemWidth: 16, itemHeight: 235, padding: 0, text: null,
            inRange: { color: ['#3350a0', '#3350a0', '#3350a0', '#3350a0', '#3350a0', '#ffffff', '#c62223', '#c62223', '#c62223', '#c62223', '#c62223'] }
        }
    ],
    series,
    graphic: { elements }
});
</script>
</body>
</html>
